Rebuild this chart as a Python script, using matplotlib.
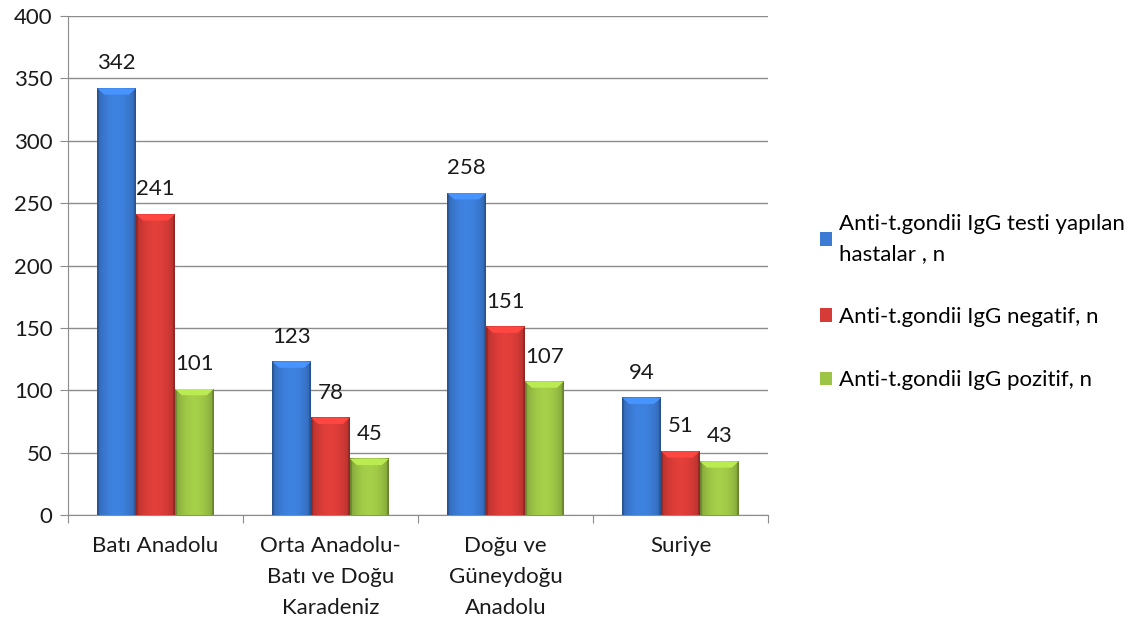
import numpy as np
import matplotlib
matplotlib.use("Agg")
import matplotlib.pyplot as plt
from matplotlib.patches import Patch

plt.rcParams['font.family'] = ['Lato', 'DejaVu Sans']

regions = ["Batı Anadolu", "Orta Anadolu-\nBatı ve Doğu\nKaradeniz",
           "Doğu ve\nGüneydoğu\nAnadolu", "Suriye"]
tested = [342, 123, 258, 94]
negative = [241, 78, 151, 51]
positive = [101, 45, 107, 43]
series_names = ["Anti-t.gondii IgG testi yapılan\nhastalar , n",
                "Anti-t.gondii IgG negatif, n",
                "Anti-t.gondii IgG pozitif, n"]
series_colors = ["#3b7bd4", "#d63b37", "#9cc445"]


def shaded_bar(ax, x0, w, h, color):
    # horizontal gradient, darker edges, lighter middle
    base = np.array(matplotlib.colors.to_rgb(color))
    t = np.linspace(-1, 1, 60)
    f = 1.06 - 0.22 * t ** 2
    f[:3] *= 0.8
    f[-3:] *= 0.8
    row = np.clip(base[None, :] * f[:, None], 0, 1)
    img = np.repeat(row[None, :, :], 2, axis=0)
    ax.imshow(img, extent=(x0, x0 + w, 0, h), aspect='auto',
              interpolation='bilinear', zorder=3)
    # small bevel on top
    bev = min(5, h * 0.5)
    top = np.clip(base * 1.2, 0, 1)
    ax.fill([x0, x0 + w, x0 + w * 0.82, x0 + w * 0.18],
            [h, h, h - bev, h - bev], color=top, lw=0, zorder=4)


fig = plt.figure(figsize=(11.41, 6.28), dpi=100)
ax = fig.add_axes([68 / 1141, 113 / 628, 700 / 1141, 499 / 628])

x = np.arange(len(regions))
w = 0.222
for k, vals in enumerate([tested, negative, positive]):
    for i, v in enumerate(vals):
        x0 = x[i] + (k - 1.5) * w
        shaded_bar(ax, x0, w, v, series_colors[k])
        ax.text(x0 + w / 2, v + 12, str(v), ha='center', va='bottom',
                fontsize=16, color='#1a1a1a', zorder=5)

ax.set_xlim(-0.5, len(regions) - 0.5)
ax.set_ylim(0, 400)
ax.set_yticks(range(0, 401, 50))
ax.yaxis.grid(True, color='#8c8c8c', lw=1)
ax.set_axisbelow(True)
ax.set_xticks(np.arange(-0.5, len(regions), 1.0))
ax.set_xticklabels([])
ax.set_xticks(x, minor=True)
ax.set_xticklabels(regions, minor=True, fontsize=16, color='#1a1a1a',
                   linespacing=1.7)
ax.tick_params(axis='x', which='minor', length=0, pad=15)
ax.tick_params(axis='x', which='major', length=6, color='#8c8c8c')
ax.tick_params(axis='y', length=6, color='#8c8c8c', labelsize=16,
               labelcolor='#1a1a1a', pad=5)
for s in ['top', 'right']:
    ax.spines[s].set_visible(False)
for s in ['left', 'bottom']:
    ax.spines[s].set_color('#8c8c8c')

handles = [Patch(facecolor=c, edgecolor='none') for c in series_colors]
leg = fig.legend(handles, series_names, loc='upper left',
                 bbox_to_anchor=(800 / 1141, 1 - 194 / 628), frameon=False,
                 fontsize=16, handlelength=0.55, handleheight=0.55,
                 handletextpad=0.3, labelspacing=1.95)
for t in leg.get_texts():
    t.set_linespacing(1.6)

fig.savefig("out.png", dpi=100)
